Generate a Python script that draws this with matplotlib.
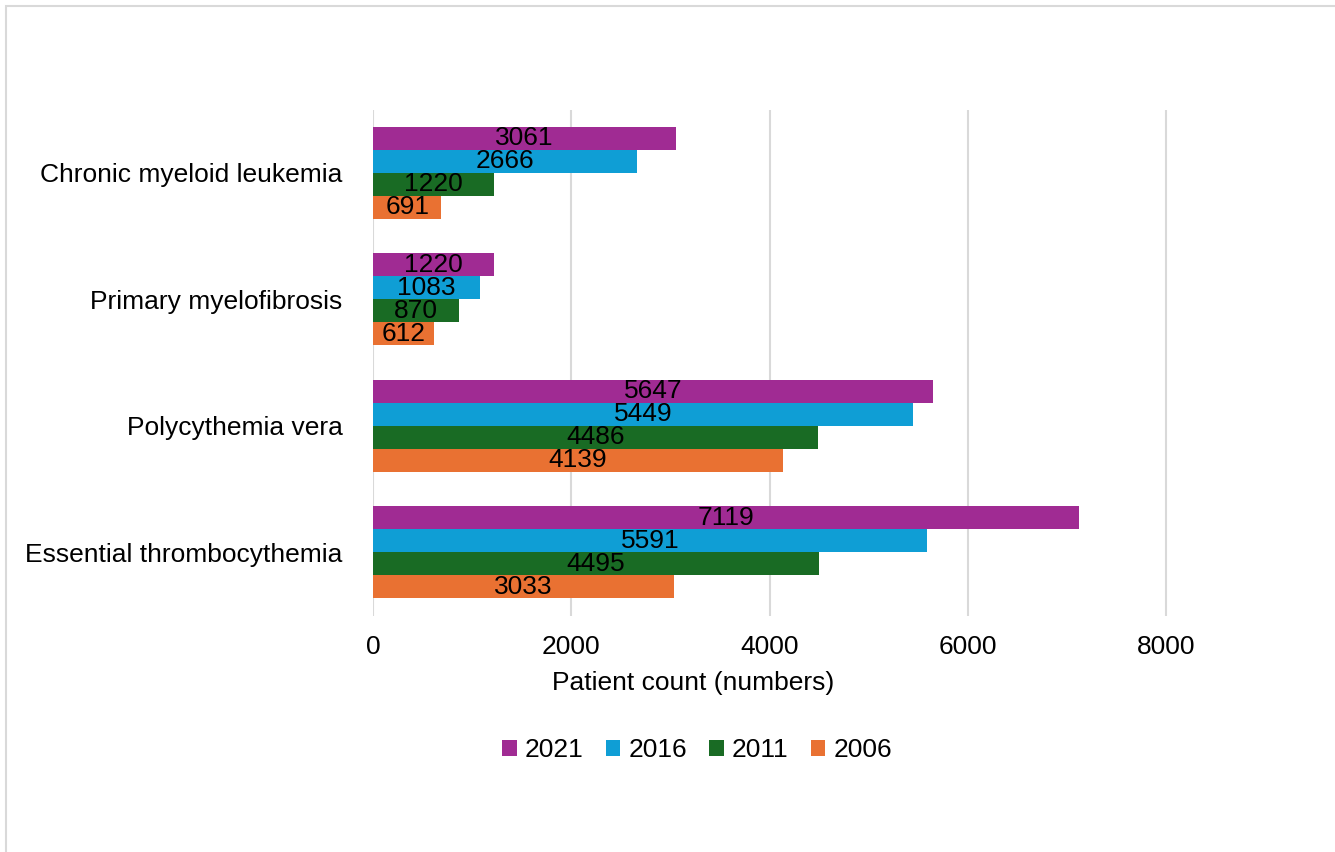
import matplotlib.pyplot as plt
import matplotlib.patches as patches
import numpy as np

plt.rcParams['font.family'] = ['Liberation Sans', 'DejaVu Sans']

# Data
categories = ['Essential thrombocythemia', 'Polycythemia vera',
              'Primary myelofibrosis', 'Chronic myeloid leukemia']
years = ['2021', '2016', '2011', '2006']
values = {
    '2021': [7119, 5647, 1220, 3061],
    '2016': [5591, 5449, 1083, 2666],
    '2011': [4495, 4486, 870, 1220],
    '2006': [3033, 4139, 612, 691],
}
colors = {'2021': '#A02B93', '2016': '#0F9ED5', '2011': '#196B24', '2006': '#E97132'}

FS = 19
W, H = 1335, 852

fig = plt.figure(figsize=(W / 100, H / 100), dpi=100)
ax = fig.add_axes([373 / W, 1 - 615.5 / H, 1 - 373 / W, (615.5 - 109.5) / H])

# chart frame (cropped on the right and bottom)
fig.patches.append(patches.Rectangle((6 / W, -0.2), 1.2, 1.2 - 6 / H,
                                     transform=fig.transFigure, fill=False,
                                     edgecolor='#D9D9D9', lw=1.5))

y = np.arange(len(categories))
bh = 0.181
for i, yr in enumerate(years):
    offs = (1.5 - i) * bh
    bars = ax.barh(y + offs, values[yr], height=bh, color=colors[yr], label=yr, zorder=3)
    ax.bar_label(bars, labels=[str(v) for v in values[yr]], label_type='center',
                 fontsize=FS, color='black', zorder=4)

ax.set_xlim(0, (W - 373) / (793 / 8000))
ax.set_ylim(-0.5, 3.5)
ax.set_xticks([0, 2000, 4000, 6000, 8000])
ax.set_yticks(y)
ax.set_yticklabels(categories)
ax.tick_params(axis='both', length=0, labelsize=FS)
ax.tick_params(axis='y', pad=22)
ax.tick_params(axis='x', pad=14)
ax.grid(axis='x', color='#D9D9D9', lw=1.5, zorder=0)
for s in ax.spines.values():
    s.set_visible(False)

fig.text(693 / W, 1 - 683 / H, 'Patient count (numbers)', ha='center', va='center', fontsize=FS)

handles, labels = ax.get_legend_handles_labels()
fig.legend(handles, labels, loc='center', bbox_to_anchor=(697 / W, 1 - 750 / H), ncol=4,
           frameon=False, fontsize=FS, handlelength=0.55, handleheight=0.55,
           handletextpad=0.3, columnspacing=0.85)

fig.savefig('out.png', dpi=100)
